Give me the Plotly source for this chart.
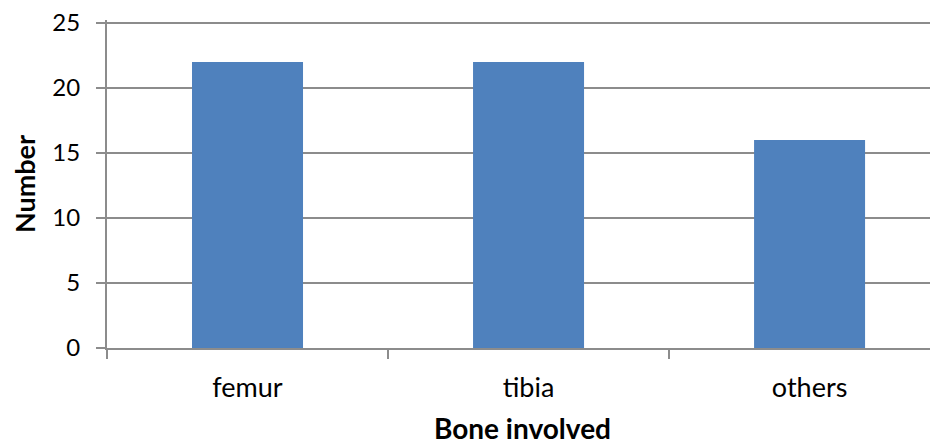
import plotly.graph_objects as go

categories = ["femur", "tibia", "others"]
values = [22, 22, 16]
y_ticks = [0, 5, 10, 15, 20, 25]

FONT = "Lato, Carlito, Calibri, sans-serif"
GRID = "#8c8c8c"

fig = go.Figure(go.Bar(
    x=categories, y=values,
    marker=dict(color="#4f81bd", line=dict(width=0)),
    width=0.395,
))

# page body has an 8px margin, so the figure is sized to fit the 938x445 window
fig.update_layout(
    width=930, height=437,
    margin=dict(l=99, r=0, t=12, b=97, autoexpand=False),
    paper_bgcolor="white", plot_bgcolor="white",
    font=dict(family=FONT, size=24, color="#000000"),
    showlegend=False,
)
fig.update_xaxes(
    range=[-0.5, 2.457],
    automargin=False,
    showgrid=False,
    showline=True, linecolor=GRID, linewidth=2,
    ticks="outside", tickson="boundaries", ticklen=9, tickcolor=GRID, tickwidth=2,
    tickfont=dict(size=27),
    ticklabelstandoff=15,
    ticklabeloverflow="allow",
    title=dict(text="<b>Bone involved</b>", font=dict(size=28), standoff=20),
)
fig.update_yaxes(
    range=[0, 25.23], tickvals=y_ticks,
    automargin=False,
    showgrid=True, gridcolor=GRID, gridwidth=2,
    showline=True, linecolor=GRID, linewidth=2,
    ticks="outside", ticklen=9, tickcolor=GRID, tickwidth=2,
    ticklabelstandoff=11,
    ticklabeloverflow="allow",
    zeroline=False,
    tickfont=dict(size=24),
    title=dict(text="<b>Number</b>", font=dict(size=27), standoff=21),
)

fig.write_html("out.html")
